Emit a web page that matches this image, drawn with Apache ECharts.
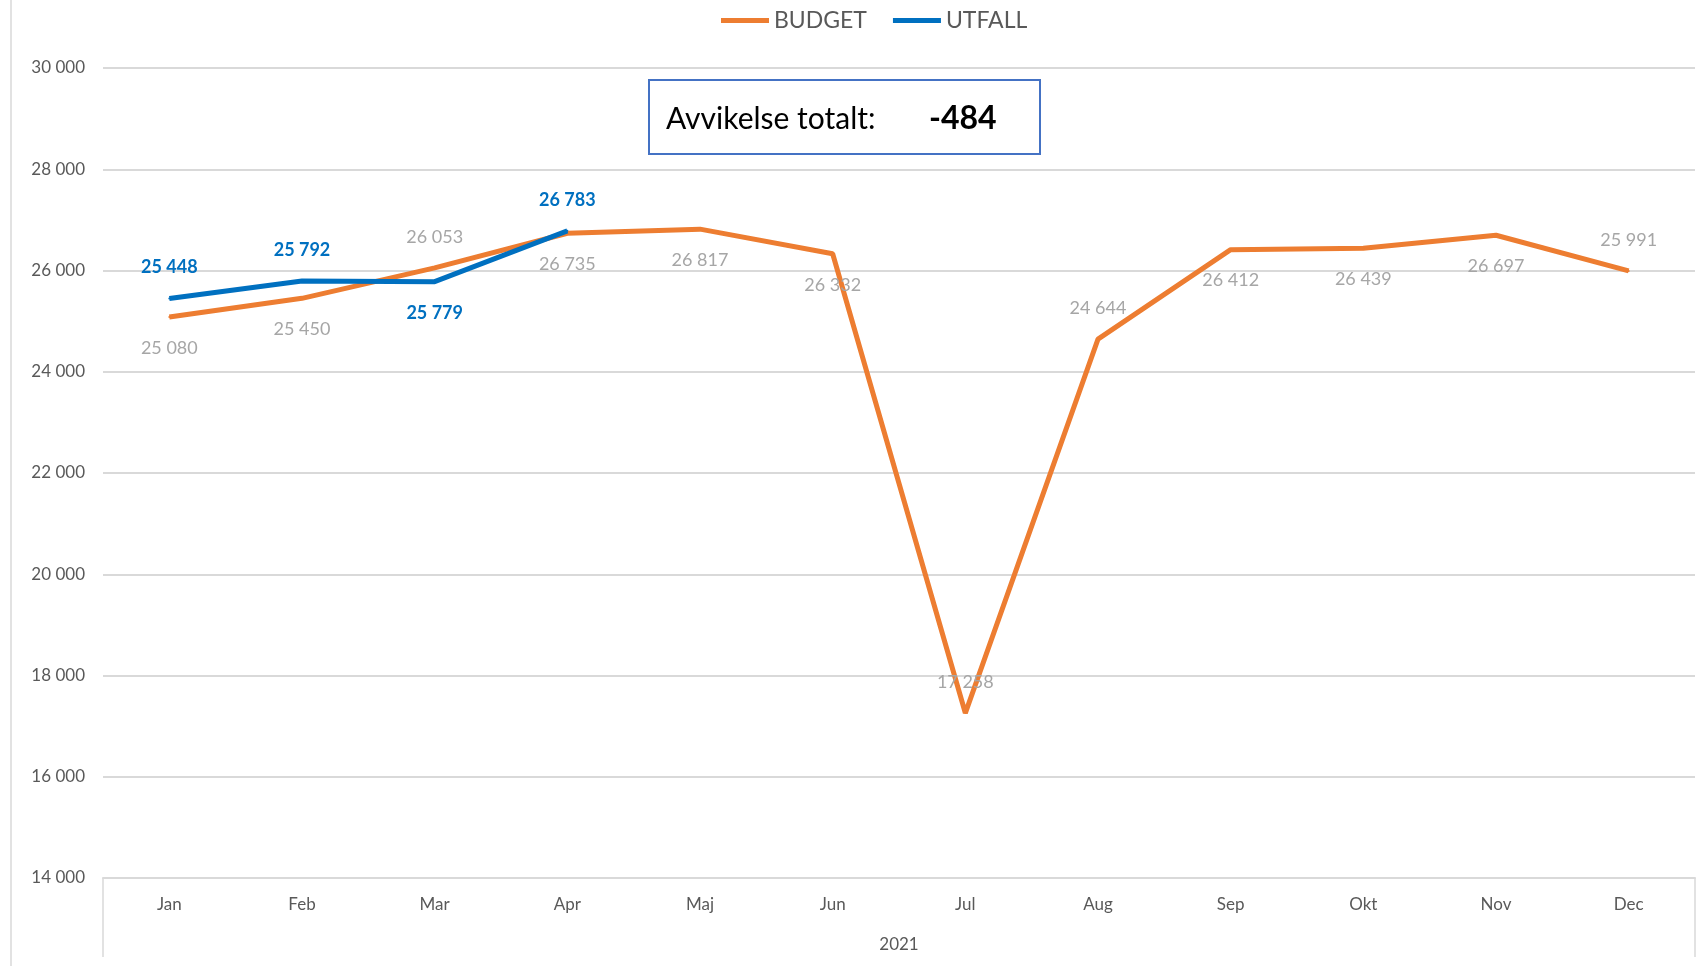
<!DOCTYPE html>
<html>
<head>
<meta charset="utf-8">
<script src="https://cdn.jsdelivr.net/npm/echarts@6/dist/echarts.min.js"></script>
<style>
  html, body { margin: 0; padding: 0; background: #fff; }
  #chart { width: 1706px; height: 966px; }
</style>
</head>
<body>
<div id="chart"></div>
<script>
var months = ['Jan', 'Feb', 'Mar', 'Apr', 'Maj', 'Jun', 'Jul', 'Aug', 'Sep', 'Okt', 'Nov', 'Dec'];
var budget = [25080, 25450, 26053, 26735, 26817, 26332, 17258, 24644, 26412, 26439, 26697, 25991];
var utfall = [25448, 25792, 25779, 26783];
var yearLabel = ['2021'];

// which labels sit above the line (the rest go below)
var budgetAbove = [2, 6, 7, 11];
var utfallAbove = [0, 1, 3];

var fmt = function (v) {
	return String(v).replace(/\B(?=(\d{3})+(?!\d))/g, ' ');
};

// avvikelse = budget - utfall for the months with utfall
var avvikelse = 0;
for (var i = 0; i < utfall.length; i++) {
	avvikelse += budget[i] - utfall[i];
}

var budgetData = budget.map(function (v, i) {
	return { value: v, label: { position: budgetAbove.indexOf(i) >= 0 ? 'top' : 'bottom' } };
});
var utfallData = utfall.map(function (v, i) {
	return { value: v, label: { position: utfallAbove.indexOf(i) >= 0 ? 'top' : 'bottom' } };
});

var font = 'Lato, "Open Sans", sans-serif';
var chart = echarts.init(document.getElementById('chart'));
var option = {
	backgroundColor: '#fff',
	animation: false,
	textStyle: { fontFamily: font },
	legend: {
		top: 4,
		left: 716,
		itemWidth: 48,
		itemHeight: 5,
		itemGap: 26,
		icon: 'rect',
		textStyle: { fontSize: 23, color: '#595959', fontFamily: font },
		data: ['BUDGET', 'UTFALL']
	},
	grid: { left: 103, right: 11, top: 68, bottom: 88 },
	xAxis: [
		{
			type: 'category',
			data: months,
			boundaryGap: true,
			axisLine: { lineStyle: { color: '#d9d9d9', width: 2 } },
			axisTick: { show: false },
			axisLabel: { color: '#595959', fontSize: 17, margin: 18, fontFamily: font }
		},
		{
			type: 'category',
			data: yearLabel,
			position: 'bottom',
			boundaryGap: true,
			axisLine: { show: false },
			axisTick: { show: true, length: 79, lineStyle: { color: '#d9d9d9', width: 1.5 } },
			axisLabel: { color: '#595959', fontSize: 17, margin: 58, fontFamily: font }
		}
	],
	yAxis: {
		type: 'value',
		min: 14000,
		max: 30000,
		interval: 2000,
		axisLine: { show: false },
		axisTick: { show: false },
		splitLine: { lineStyle: { color: '#d9d9d9', width: 2 } },
		axisLabel: {
			color: '#595959', fontSize: 17, margin: 18, fontFamily: font,
			formatter: function (v) { return fmt(v); }
		}
	},
	series: [
		{
			name: 'BUDGET',
			type: 'line',
			data: budgetData,
			color: '#ED7D31',
			symbol: 'circle',
			symbolSize: 2,
			showSymbol: true,
			lineStyle: { width: 5, color: '#ED7D31' },
			itemStyle: { color: '#ED7D31' },
			z: 2,
			label: {
				show: true,
				distance: 21,
				color: '#a6a6a6',
				fontSize: 18,
				fontFamily: font,
				formatter: function (p) { return fmt(p.value); }
			}
		},
		{
			name: 'UTFALL',
			type: 'line',
			data: utfallData,
			color: '#0070C0',
			symbol: 'circle',
			symbolSize: 2,
			showSymbol: true,
			lineStyle: { width: 5, color: '#0070C0' },
			itemStyle: { color: '#0070C0' },
			z: 3,
			label: {
				show: true,
				distance: 21,
				color: '#0070C0',
				fontWeight: 'bold',
				fontSize: 18,
				fontFamily: font,
				formatter: function (p) { return fmt(p.value); }
			}
		}
	],
	graphic: [
		{
			type: 'line',
			shape: { x1: 11, y1: 0, x2: 11, y2: 966 },
			style: { stroke: '#d9d9d9', lineWidth: 1.5 }
		},
		{
			type: 'rect',
			left: 648,
			top: 79,
			shape: { width: 391, height: 74 },
			style: { fill: '#fff', stroke: '#4472C4', lineWidth: 2 },
			z: 10
		},
		{
			type: 'text',
			left: 666,
			top: 104,
			style: { text: 'Avvikelse totalt:', fontSize: 30, fill: '#000', fontFamily: font },
			z: 11
		},
		{
			type: 'text',
			left: 929,
			top: 103,
			style: { text: String(avvikelse), fontSize: 32, fontWeight: 'bold', fill: '#000', fontFamily: font },
			z: 11
		}
	]
};
chart.setOption(option);
</script>
</body>
</html>
